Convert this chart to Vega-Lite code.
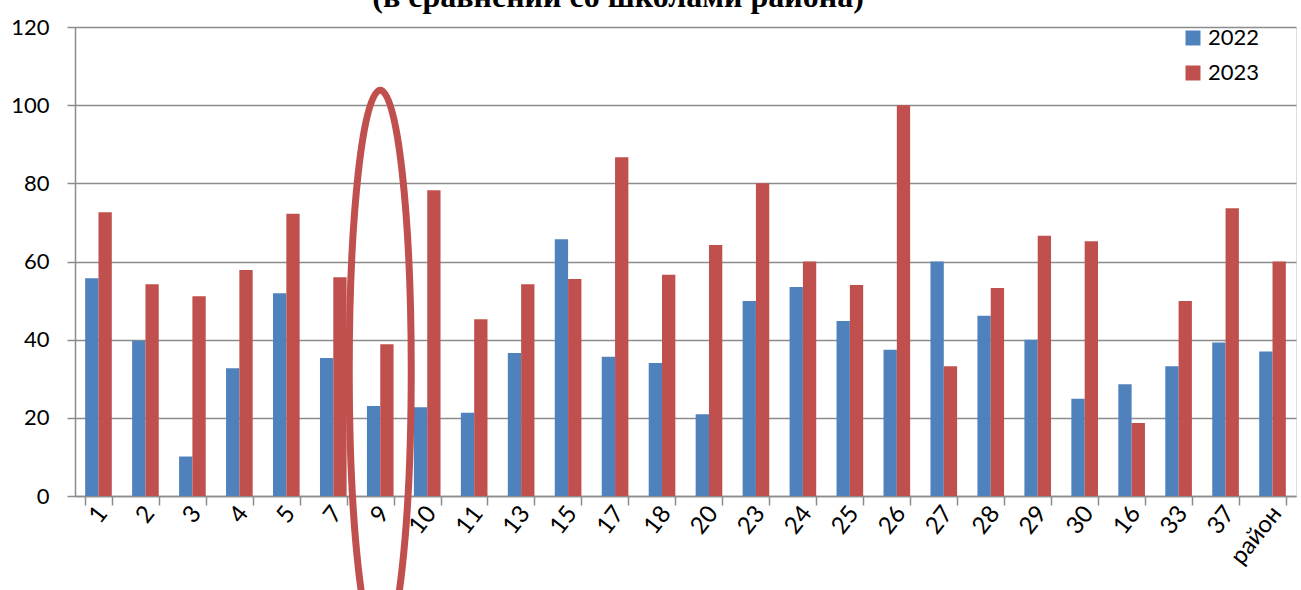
{
  "$schema": "https://vega.github.io/schema/vega-lite/v6.json",
  "width": 1221,
  "height": 469,
  "autosize": {"type": "none"},
  "padding": {"left": 75, "top": 27, "right": 5, "bottom": 94},
  "background": "white",
  "datasets": {
    "scores": [
      {"school": "1", "year": "2022", "value": 55.7},
      {"school": "1", "year": "2023", "value": 72.6},
      {"school": "2", "year": "2022", "value": 39.7},
      {"school": "2", "year": "2023", "value": 54.2},
      {"school": "3", "year": "2022", "value": 10.1},
      {"school": "3", "year": "2023", "value": 51.1},
      {"school": "4", "year": "2022", "value": 32.7},
      {"school": "4", "year": "2023", "value": 57.8},
      {"school": "5", "year": "2022", "value": 51.9},
      {"school": "5", "year": "2023", "value": 72.2},
      {"school": "7", "year": "2022", "value": 35.3},
      {"school": "7", "year": "2023", "value": 56.0},
      {"school": "9", "year": "2022", "value": 23.0},
      {"school": "9", "year": "2023", "value": 38.8},
      {"school": "10", "year": "2022", "value": 22.7},
      {"school": "10", "year": "2023", "value": 78.2},
      {"school": "11", "year": "2022", "value": 21.3},
      {"school": "11", "year": "2023", "value": 45.2},
      {"school": "13", "year": "2022", "value": 36.6},
      {"school": "13", "year": "2023", "value": 54.2},
      {"school": "15", "year": "2022", "value": 65.7},
      {"school": "15", "year": "2023", "value": 55.5},
      {"school": "17", "year": "2022", "value": 35.6},
      {"school": "17", "year": "2023", "value": 86.7},
      {"school": "18", "year": "2022", "value": 34.0},
      {"school": "18", "year": "2023", "value": 56.6},
      {"school": "20", "year": "2022", "value": 20.9},
      {"school": "20", "year": "2023", "value": 64.2},
      {"school": "23", "year": "2022", "value": 49.9},
      {"school": "23", "year": "2023", "value": 80.0},
      {"school": "24", "year": "2022", "value": 53.5},
      {"school": "24", "year": "2023", "value": 60.0},
      {"school": "25", "year": "2022", "value": 44.8},
      {"school": "25", "year": "2023", "value": 54.0},
      {"school": "26", "year": "2022", "value": 37.4},
      {"school": "26", "year": "2023", "value": 100.0},
      {"school": "27", "year": "2022", "value": 60.0},
      {"school": "27", "year": "2023", "value": 33.2},
      {"school": "28", "year": "2022", "value": 46.1},
      {"school": "28", "year": "2023", "value": 53.2},
      {"school": "29", "year": "2022", "value": 40.0},
      {"school": "29", "year": "2023", "value": 66.6},
      {"school": "30", "year": "2022", "value": 24.9},
      {"school": "30", "year": "2023", "value": 65.2},
      {"school": "16", "year": "2022", "value": 28.6},
      {"school": "16", "year": "2023", "value": 18.7},
      {"school": "33", "year": "2022", "value": 33.2},
      {"school": "33", "year": "2023", "value": 49.9},
      {"school": "37", "year": "2022", "value": 39.3},
      {"school": "37", "year": "2023", "value": 73.6},
      {"school": "район", "year": "2022", "value": 37.0},
      {"school": "район", "year": "2023", "value": 60.0}
    ],
    "highlight": [
      {"school": "9", "value": 32.2}
    ],
    "caption": [
      {"school": "17", "value": 125.1, "label": "(в сравнении со школами района)"}
    ]
  },
  "encoding": {
    "x": {
      "field": "school",
      "type": "nominal",
      "scale": {
        "domain": ["1", "2", "3", "4", "5", "7", "9", "10", "11", "13", "15", "17", "18", "20", "23", "24", "25", "26", "27", "28", "29", "30", "16", "33", "37", "район"],
        "paddingInner": 0.433,
        "paddingOuter": 0.2165
      },
      "axis": {
        "title": null,
        "tickBand": "extent",
        "domainColor": "#8c8c8c",
        "domainWidth": 1.5,
        "tickColor": "#8c8c8c",
        "tickWidth": 1.5,
        "tickSize": 9,
        "labelAngle": -52,
        "labelAlign": "right",
        "labelBaseline": "middle",
        "labelPadding": 4,
        "labelOffset": 4,
        "labelFont": "Lato",
        "labelFontSize": 24,
        "labelColor": "black",
        "grid": false
      }
    },
    "y": {
      "field": "value",
      "type": "quantitative",
      "scale": {"domain": [0, 120], "nice": false},
      "axis": {
        "title": null,
        "values": [0, 20, 40, 60, 80, 100, 120],
        "grid": true,
        "gridColor": "#8c8c8c",
        "gridWidth": 1.5,
        "domainColor": "#8c8c8c",
        "domainWidth": 1.5,
        "tickColor": "#8c8c8c",
        "tickWidth": 1.5,
        "tickSize": 8,
        "labelPadding": 18,
        "labelFont": "Lato",
        "labelFontSize": 22,
        "labelColor": "black"
      }
    }
  },
  "layer": [
    {
      "data": {"name": "scores"},
      "mark": {"type": "bar"},
      "encoding": {
        "xOffset": {"field": "year", "type": "nominal", "scale": {"paddingInner": 0, "paddingOuter": 0}},
        "color": {
          "field": "year",
          "type": "nominal",
          "scale": {"domain": ["2022", "2023"], "range": ["#4F81BD", "#C0504D"]},
          "legend": {
            "title": null,
            "orient": "none",
            "legendX": 1107,
            "legendY": 0,
            "padding": 0,
            "symbolType": "square",
            "symbolSize": 225,
            "symbolStrokeWidth": 0,
            "labelFont": "Lato",
            "labelFontSize": 22,
            "labelColor": "black",
            "labelOffset": 4,
            "rowPadding": 13
          }
        }
      }
    },
    {
      "data": {"name": "highlight"},
      "mark": {
        "type": "point",
        "shape": "M0,-1 A0.1107,1 0 1,1 0,1 A0.1107,1 0 1,1 0,-1 Z",
        "filled": false,
        "stroke": "#C0504D",
        "strokeWidth": 7,
        "opacity": 1,
        "size": 313600
      }
    },
    {
      "data": {"name": "caption"},
      "mark": {
        "type": "text",
        "font": "Liberation Serif",
        "fontWeight": "bold",
        "fontSize": 32,
        "color": "black",
        "align": "center",
        "baseline": "alphabetic",
        "dx": 3
      },
      "encoding": {
        "text": {"field": "label", "type": "nominal"}
      }
    }
  ]
}
